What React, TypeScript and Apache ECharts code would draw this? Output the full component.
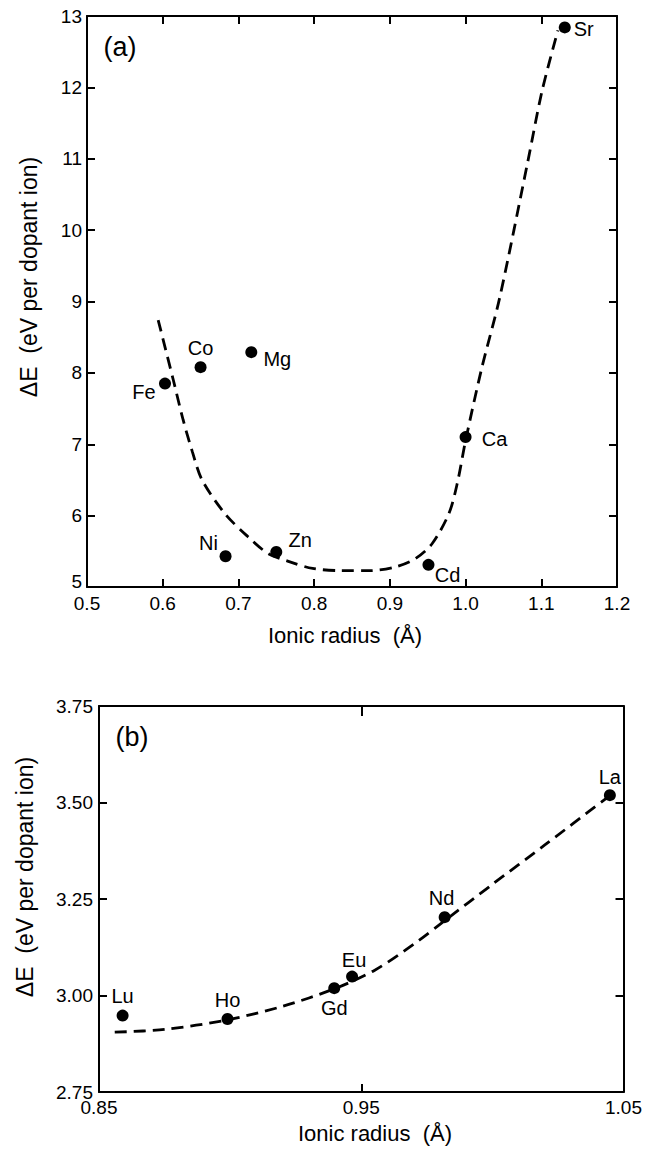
import React, { useEffect, useRef } from "react";
import * as echarts from "echarts";

// ---------- Panel (a) data ----------
const topNames = ["Fe", "Co", "Mg", "Ni", "Zn", "Cd", "Ca", "Sr"];
const topRadius = [0.603, 0.65, 0.717, 0.683, 0.75, 0.951, 1.0, 1.131];
const topEnergy = [7.85, 8.08, 8.29, 5.43, 5.49, 5.31, 7.1, 12.84];
const topCurveX = [0.594, 0.614, 0.627, 0.639, 0.652, 0.682, 0.712, 0.739, 0.766, 0.798, 0.836, 0.874, 0.907, 0.934, 0.956, 0.978, 0.989, 1.0, 1.021, 1.045, 1.082, 1.101, 1.122];
const topCurveY = [8.74, 7.9, 7.34, 6.9, 6.5, 6.03, 5.71, 5.47, 5.36, 5.26, 5.23, 5.23, 5.28, 5.4, 5.61, 6.03, 6.45, 7.05, 8.05, 9.05, 10.95, 11.95, 12.8];
const topXTicks = [0.5, 1.2, 0.1];
const topYTicks = [5, 13, 1];

// ---------- Panel (b) data ----------
const botNames = ["Lu", "Ho", "Gd", "Eu", "Nd", "La"];
const botRadius = [0.859, 0.899, 0.9397, 0.9465, 0.9818, 1.0448];
const botEnergy = [2.948, 2.939, 3.019, 3.049, 3.203, 3.519];
const botCurveX = [0.856, 0.875, 0.899, 0.92, 0.94, 0.955, 0.97, 0.982, 1.0, 1.02, 1.045];
const botCurveY = [2.905, 2.912, 2.937, 2.972, 3.018, 3.065, 3.133, 3.195, 3.288, 3.39, 3.519];
const botXLabels = [0.85, 0.95, 1.05];
const botXTickMarks = [0.95];
const botYTicks = [2.75, 3.75, 0.25];

// label placement (pixel offsets, presentation only)
const topLabelOffsets = [[-21, 8], [0, -19], [26, 7], [-17, -13], [24, -12], [19, 10], [29, 2], [19, 2]];
const botLabelOffsets = [[0, -20], [0, -19], [0, 20], [2, -17], [-3, -19], [0, -18]];

const FONT = "Liberation Sans, Arial, sans-serif";
const INK = "#000";

function axisBase(extra: any) {
  return {
    type: "value",
    axisLine: { show: true, onZero: false, lineStyle: { color: INK, width: 2 } },
    axisTick: { show: true, inside: true, length: 8, lineStyle: { color: INK, width: 2 } },
    splitLine: { show: false },
    ...extra,
  };
}

export default function App() {
  const ref = useRef<HTMLDivElement>(null);
  useEffect(() => {
    if (!ref.current) return;
    const chart = echarts.init(ref.current, undefined, { renderer: "svg" });

    const labelStyle = { color: INK, fontSize: 20, fontFamily: FONT };
    const tickLabel = { color: INK, fontSize: 19, fontFamily: FONT };

    const topPoints = topNames.map((n, i) => ({
      name: n,
      value: [topRadius[i], topEnergy[i]],
      label: { offset: topLabelOffsets[i] },
    }));
    const botPoints = botNames.map((n, i) => ({
      name: n,
      value: [botRadius[i], botEnergy[i]],
      label: { offset: botLabelOffsets[i] },
    }));

    const option: any = {
      animation: false,
      backgroundColor: "#fff",
      grid: [
        { left: 87, right: 28, top: 16, height: 571 },
        { left: 99, right: 19, top: 706, height: 386 },
      ],
      xAxis: [
        axisBase({
          gridIndex: 0, position: "bottom", min: topXTicks[0], max: topXTicks[1], interval: topXTicks[2],
          axisLabel: { ...tickLabel, margin: 7, formatter: (v: number) => v.toFixed(1) },
        }),
        axisBase({
          gridIndex: 0, position: "top", min: topXTicks[0], max: topXTicks[1], interval: topXTicks[2],
          axisLabel: { show: false },
        }),
        axisBase({
          gridIndex: 1, position: "bottom", min: botXLabels[0], max: botXLabels[2], interval: 0.05,
          axisLabel: { ...tickLabel, margin: 6, customValues: botXLabels, formatter: (v: number) => v.toFixed(2) },
          axisTick: { show: true, inside: true, length: 8, customValues: botXTickMarks, lineStyle: { color: INK, width: 2 } },
        }),
        axisBase({
          gridIndex: 1, position: "top", min: botXLabels[0], max: botXLabels[2], interval: 0.05,
          axisLabel: { show: false },
          axisTick: { show: true, inside: true, length: 10, customValues: botXTickMarks, lineStyle: { color: INK, width: 2 } },
        }),
      ],
      yAxis: [
        axisBase({
          gridIndex: 0, position: "left", min: topYTicks[0], max: topYTicks[1], interval: topYTicks[2],
          axisLabel: {
            ...tickLabel, margin: 5,
            formatter: (v: number) => (v === topYTicks[0] ? `{lo|${v}}` : String(v)),
            rich: { lo: { fontSize: 19, fontFamily: FONT, color: INK, padding: [0, 0, 12, 0] } },
          },
        }),
        axisBase({
          gridIndex: 0, position: "right", min: topYTicks[0], max: topYTicks[1], interval: topYTicks[2],
          axisLabel: { show: false },
        }),
        axisBase({
          gridIndex: 1, position: "left", min: botYTicks[0], max: botYTicks[1], interval: botYTicks[2],
          axisLabel: { ...tickLabel, margin: 6, formatter: (v: number) => v.toFixed(2) },
        }),
        axisBase({
          gridIndex: 1, position: "right", min: botYTicks[0], max: botYTicks[1], interval: botYTicks[2],
          axisLabel: { show: false },
        }),
      ],
      series: [
        {
          type: "line", xAxisIndex: 0, yAxisIndex: 0, smooth: 0.3, showSymbol: false, silent: true,
          lineStyle: { color: INK, width: 2.8, type: [12, 7] },
          data: topCurveX.map((x, i) => [x, topCurveY[i]]),
        },
        {
          type: "scatter", xAxisIndex: 0, yAxisIndex: 0, symbolSize: 12,
          itemStyle: { color: INK, opacity: 1 },
          label: { show: true, position: "inside", formatter: "{b}", ...labelStyle },
          data: topPoints,
        },
        {
          type: "line", xAxisIndex: 2, yAxisIndex: 2, smooth: 0.3, showSymbol: false, silent: true,
          lineStyle: { color: INK, width: 2.8, type: [12, 7] },
          data: botCurveX.map((x, i) => [x, botCurveY[i]]),
        },
        {
          type: "scatter", xAxisIndex: 2, yAxisIndex: 2, symbolSize: 12,
          itemStyle: { color: INK, opacity: 1 },
          label: { show: true, position: "inside", formatter: "{b}", ...labelStyle },
          data: botPoints,
        },
      ],
      graphic: [
        { type: "text", x: 120, y: 47, style: { text: "(a)", fontSize: 27, fontFamily: FONT, fill: INK, align: "center", verticalAlign: "middle" } },
        { type: "text", x: 132, y: 737, style: { text: "(b)", fontSize: 27, fontFamily: FONT, fill: INK, align: "center", verticalAlign: "middle" } },
        { type: "text", x: 345, y: 635, style: { text: "Ionic radius  (Å)", fontSize: 22, fontFamily: FONT, fill: INK, align: "center", verticalAlign: "middle" } },
        { type: "text", x: 375, y: 1133, style: { text: "Ionic radius  (Å)", fontSize: 22, fontFamily: FONT, fill: INK, align: "center", verticalAlign: "middle" } },
        { type: "text", x: 29, y: 277, rotation: Math.PI / 2, style: { text: "ΔE  (eV per dopant ion)", fontSize: 23, fontFamily: FONT, fill: INK, align: "center", verticalAlign: "middle" } },
        { type: "text", x: 25, y: 877, rotation: Math.PI / 2, style: { text: "ΔE  (eV per dopant ion)", fontSize: 23, fontFamily: FONT, fill: INK, align: "center", verticalAlign: "middle" } },
      ],
    };
    chart.setOption(option);
    return () => chart.dispose();
  }, []);
  return <div ref={ref} style={{ position: "absolute", left: 0, top: 0, width: 645, height: 1150 }} />;
}
